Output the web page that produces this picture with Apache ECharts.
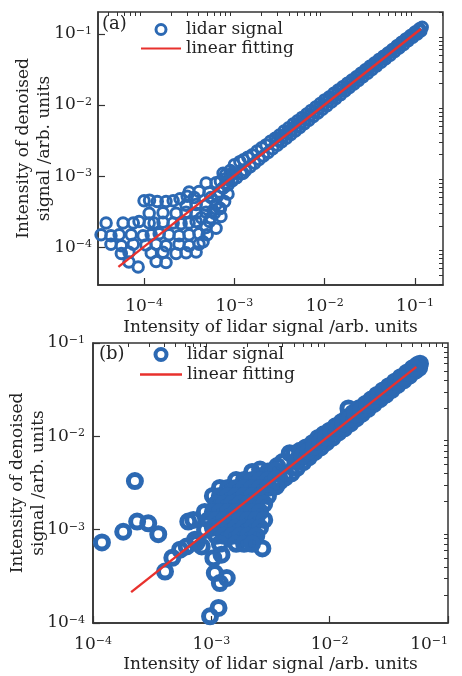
<!DOCTYPE html>
<html lang="en">
<head>
<meta charset="utf-8">
<title>lidar signal vs denoised signal</title>
<script src="https://cdn.jsdelivr.net/npm/echarts@6/dist/echarts.min.js"></script>
<style>
  html, body { margin: 0; background: #fff; }
</style>
</head>
<body>
<div id="main" style="width:462px;height:676px;"></div>
<script>
// ---- data (x = lidar signal, y = denoised signal) ----
var clusterA = [
  [3.8e-5,2.2e-4],[5.85e-5,2.2e-4],[7.6e-5,2.2e-4],[8.8e-5,2.3e-4],[1.14e-4,2.2e-4],[1.29e-4,2.2e-4],
  [1.62e-4,2.25e-4],[2.1e-4,2.2e-4],[2.57e-4,2.15e-4],[3.15e-4,2.2e-4],[3.77e-4,2.3e-4],
  [3.34e-5,1.5e-4],[4.3e-5,1.45e-4],[5.3e-5,1.5e-4],[7.2e-5,1.5e-4],[9.75e-5,1.45e-4],[1.2e-4,1.5e-4],
  [1.47e-4,1.55e-4],[1.89e-4,1.5e-4],[2.44e-4,1.45e-4],[3.15e-4,1.5e-4],[4.06e-4,1.55e-4],
  [4.3e-5,1.1e-4],[5.6e-5,1.05e-4],[7.6e-5,1.1e-4],[1.05e-4,1.08e-4],[1.36e-4,1.1e-4],[1.75e-4,1.05e-4],
  [2.44e-4,1.1e-4],[3.15e-4,1.05e-4],[4.06e-4,1.1e-4],[4.5e-4,1.2e-4],
  [5.6e-5,8.2e-5],[6.8e-5,8.5e-5],[1.2e-4,8.3e-5],[1.62e-4,8.5e-5],[2.26e-4,8.2e-5],[2.92e-4,8.4e-5],[3.77e-4,8.6e-5],
  [6.8e-5,6.2e-5],[1.36e-4,6.3e-5],[1.75e-4,6.1e-5],[8.6e-5,5.3e-5],
  [1.14e-4,3.0e-4],[1.62e-4,3.05e-4],[2.26e-4,3.0e-4],[2.92e-4,3.1e-4],[3.77e-4,3.0e-4],[4.86e-4,3.1e-4],
  [2.92e-4,3.9e-4],[3.77e-4,4.0e-4],[4.86e-4,3.9e-4],[6.27e-4,4.0e-4],
  [1.0e-4,4.5e-4],[1.15e-4,4.6e-4],[1.4e-4,4.4e-4],[1.75e-4,4.4e-4],[2.1e-4,4.5e-4],[2.5e-4,4.8e-4],
  [3.0e-4,5.2e-4],[3.6e-4,5.0e-4],
  [3.15e-4,6.0e-4],[4.06e-4,6.1e-4],[5.25e-4,5.9e-4],[6.76e-4,6.0e-4],
  [4.86e-4,8.0e-4],[6.27e-4,8.1e-4],[8.1e-4,8.0e-4],
  [7.5e-4,1.1e-3],[9.7e-4,1.12e-3],[1.25e-3,1.1e-3],
  [4.3e-4,2.6e-4],[5.5e-4,2.6e-4],[7.1e-4,2.7e-4],[4.86e-4,1.9e-4],[6.27e-4,1.85e-4],
  [5.3e-4,2.3e-4],[6.0e-4,3.0e-4],[6.8e-4,3.6e-4],[7.8e-4,4.4e-4],[8.5e-4,5.6e-4],[5.0e-4,1.5e-4],
  [5.5e-4,5.0e-4],[6.5e-4,5.2e-4],[7.5e-4,6.8e-4],[5.8e-4,3.3e-4],[7.0e-4,3.5e-4]
];
var bandA = [
  [8.0e-4,1.05e-3],[9.0e-4,1.2e-3],[1.0e-3,1.45e-3],[1.15e-3,1.6e-3],[1.26e-3,1.7e-3],[1.41e-3,1.85e-3],
  [1.58e-3,2.0e-3],[1.78e-3,2.25e-3],[2.0e-3,2.5e-3],[2.24e-3,2.75e-3],[2.51e-3,3.1e-3],[2.82e-3,3.4e-3],
  [3.16e-3,3.8e-3],[3.55e-3,4.3e-3],[3.98e-3,4.8e-3],[4.47e-3,5.4e-3],[5.01e-3,6.0e-3],[5.62e-3,6.7e-3],
  [6.31e-3,7.5e-3],[7.08e-3,8.4e-3],[7.94e-3,9.4e-3],[8.91e-3,1.05e-2],[1.0e-2,1.18e-2],[1.12e-2,1.3e-2],
  [1.26e-2,1.46e-2],[1.41e-2,1.63e-2],[1.58e-2,1.8e-2],[1.78e-2,2.02e-2],[2.0e-2,2.25e-2],[2.24e-2,2.5e-2],
  [2.51e-2,2.8e-2],[2.82e-2,3.12e-2],[3.16e-2,3.5e-2],[3.55e-2,3.9e-2],[3.98e-2,4.35e-2],[4.47e-2,4.85e-2],
  [5.01e-2,5.4e-2],[5.62e-2,6.05e-2],[6.31e-2,6.8e-2],[7.08e-2,7.6e-2],[7.94e-2,8.5e-2],[8.91e-2,9.5e-2],
  [0.1,0.106],[0.112,0.118],[0.12,0.124],
  [7.0e-4,8.5e-4],[8.0e-4,9.2e-4],[9.0e-4,1.0e-3],
  [7.5e-4,6.8e-4],[8.5e-4,7.5e-4],[9.5e-4,8.6e-4],[1.06e-3,9.5e-4],[1.19e-3,1.08e-3],[1.33e-3,1.2e-3],
  [1.5e-3,1.36e-3],[1.68e-3,1.52e-3],[1.88e-3,1.72e-3],[2.1e-3,1.92e-3],[2.37e-3,2.15e-3],[2.66e-3,2.42e-3],
  [2.99e-3,2.72e-3],[3.35e-3,3.05e-3],[3.76e-3,3.42e-3],[4.22e-3,3.85e-3],[4.73e-3,4.3e-3],[5.31e-3,4.85e-3],
  [5.96e-3,5.45e-3],[6.68e-3,6.1e-3],[7.5e-3,6.9e-3],[8.41e-3,7.75e-3],[9.44e-3,8.7e-3],[1.06e-2,9.8e-3],
  [1.19e-2,1.1e-2],[1.33e-2,1.24e-2],[1.5e-2,1.4e-2],[1.68e-2,1.57e-2],[1.88e-2,1.76e-2],[2.11e-2,1.98e-2],
  [2.37e-2,2.22e-2],[2.66e-2,2.5e-2],[2.99e-2,2.8e-2],[3.35e-2,3.15e-2],[3.76e-2,3.55e-2],[4.22e-2,3.98e-2],
  [4.73e-2,4.47e-2],[5.31e-2,5.02e-2],[5.96e-2,5.64e-2],[6.68e-2,6.33e-2],[7.5e-2,7.1e-2],[8.41e-2,7.98e-2],
  [9.44e-2,8.95e-2],[0.106,0.1],[0.116,0.11],
  [3.0e-3,3.2e-3],[3.4e-3,3.6e-3],[3.8e-3,4.0e-3],[4.3e-3,4.5e-3],[4.8e-3,5.0e-3],[5.4e-3,5.7e-3],
  [6.0e-3,6.3e-3],[6.8e-3,7.1e-3],[7.6e-3,8.0e-3],[8.6e-3,9.0e-3],[9.6e-3,1.0e-2],[1.08e-2,1.13e-2],
  [1.21e-2,1.27e-2],[1.36e-2,1.42e-2],[1.53e-2,1.6e-2],[1.72e-2,1.79e-2],[1.93e-2,2.01e-2],[2.16e-2,2.25e-2],
  [2.43e-2,2.53e-2],[2.72e-2,2.83e-2],[3.06e-2,3.18e-2],[3.43e-2,3.57e-2],[3.85e-2,4.0e-2],[4.32e-2,4.49e-2],
  [4.85e-2,5.04e-2],[5.44e-2,5.65e-2],[6.1e-2,6.34e-2],[6.85e-2,7.1e-2],[7.69e-2,7.98e-2],[8.63e-2,8.95e-2],
  [9.68e-2,0.1],[0.109,0.112]
];
var fitA = [[5.2e-5, 5.3e-5], [0.116, 0.117]];

var clusterB = [
  [1.19e-4,7.3e-4],[1.8e-4,9.5e-4],[2.26e-4,3.32e-3],[2.36e-4,1.22e-3],[2.93e-4,1.17e-3],[3.56e-4,8.95e-4],
  [4.06e-4,3.56e-4],[4.68e-4,5.0e-4],[5.44e-4,6.1e-4],[6.19e-4,6.6e-4],[6.38e-4,1.22e-3],[7.04e-4,1.27e-3],
  [7.28e-4,7.8e-4],[7.5e-4,7.2e-4],[8.3e-4,6.6e-4],[8.85e-4,9.9e-4],[9.75e-4,1.18e-4],[1.15e-3,1.45e-4],
  [1.07e-3,3.43e-4],[1.18e-3,2.68e-4],[1.35e-3,3.03e-4],[1.04e-3,4.95e-4],[1.22e-3,5.4e-4],
  [2.7e-3,6.3e-4],[2.24e-3,7.9e-4],
  [2.21e-3,4.15e-3],[2.58e-3,4.4e-3],[3.01e-3,4.2e-3],[3.52e-3,4.3e-3],
  [1.62e-3,3.4e-3],[1.89e-3,3.4e-3],[2.21e-3,3.4e-3],[2.58e-3,3.4e-3],[3.01e-3,3.4e-3],[3.52e-3,3.5e-3],
  [1.18e-3,2.8e-3],[1.38e-3,2.8e-3],[1.62e-3,2.8e-3],[1.89e-3,2.8e-3],[2.21e-3,2.8e-3],[2.58e-3,2.8e-3],
  [3.01e-3,2.8e-3],[3.52e-3,2.9e-3],
  [1.03e-3,2.3e-3],[1.18e-3,2.3e-3],[1.38e-3,2.3e-3],[1.62e-3,2.3e-3],[1.89e-3,2.3e-3],[2.21e-3,2.3e-3],
  [2.58e-3,2.3e-3],[3.01e-3,2.3e-3],
  [1.1e-3,1.89e-3],[1.28e-3,1.89e-3],[1.5e-3,1.89e-3],[1.75e-3,1.89e-3],[2.05e-3,1.89e-3],[2.4e-3,1.89e-3],
  [2.8e-3,1.89e-3],
  [8.8e-4,1.55e-3],[1.03e-3,1.55e-3],[1.18e-3,1.55e-3],[1.38e-3,1.55e-3],[1.62e-3,1.55e-3],[1.89e-3,1.55e-3],
  [2.21e-3,1.55e-3],[2.58e-3,1.55e-3],
  [9.5e-4,1.27e-3],[1.1e-3,1.27e-3],[1.28e-3,1.27e-3],[1.5e-3,1.27e-3],[1.75e-3,1.27e-3],[2.05e-3,1.27e-3],
  [2.4e-3,1.27e-3],[2.8e-3,1.27e-3],
  [1.03e-3,1.05e-3],[1.18e-3,1.05e-3],[1.38e-3,1.05e-3],[1.62e-3,1.05e-3],[1.89e-3,1.05e-3],[2.21e-3,1.05e-3],
  [2.58e-3,1.05e-3],
  [1.1e-3,8.6e-4],[1.28e-3,8.6e-4],[1.5e-3,8.6e-4],[1.75e-3,8.6e-4],[2.05e-3,8.6e-4],[2.4e-3,8.6e-4],
  [1.18e-3,7.05e-4],[1.62e-3,7.05e-4],[1.89e-3,7.05e-4],[2.21e-3,7.05e-4]
];
var bandB = [
  [3.2e-3,4.2e-3],[3.6e-3,4.8e-3],[4.0e-3,5.3e-3],[4.6e-3,6.6e-3],[5.0e-3,6.5e-3],[5.6e-3,7.0e-3],
  [6.3e-3,7.6e-3],[7.2e-3,8.5e-3],[8.0e-3,9.6e-3],[8.9e-3,1.05e-2],[1.0e-2,1.15e-2],[1.12e-2,1.28e-2],
  [1.26e-2,1.42e-2],[1.41e-2,1.6e-2],[1.44e-2,1.99e-2],[1.58e-2,1.78e-2],[1.78e-2,2.0e-2],[2.0e-2,2.22e-2],
  [2.24e-2,2.48e-2],[2.51e-2,2.78e-2],[2.82e-2,3.1e-2],[3.16e-2,3.45e-2],[3.55e-2,3.85e-2],[3.98e-2,4.3e-2],
  [4.47e-2,4.8e-2],[5.01e-2,5.35e-2],[5.5e-2,5.8e-2],[5.8e-2,6.0e-2],
  [3.4e-3,3.0e-3],[3.8e-3,3.3e-3],[4.2e-3,3.6e-3],[4.75e-3,4.0e-3],[5.3e-3,4.6e-3],[6.0e-3,5.3e-3],
  [6.7e-3,6.0e-3],[7.5e-3,6.8e-3],[8.4e-3,7.6e-3],[9.4e-3,8.6e-3],[1.06e-2,9.7e-3],[1.19e-2,1.1e-2],
  [1.33e-2,1.22e-2],[1.5e-2,1.38e-2],[1.68e-2,1.56e-2],[1.88e-2,1.75e-2],[2.11e-2,1.97e-2],[2.37e-2,2.22e-2],
  [2.66e-2,2.5e-2],[2.99e-2,2.8e-2],[3.35e-2,3.15e-2],[3.76e-2,3.55e-2],[4.22e-2,3.98e-2],[4.73e-2,4.48e-2],
  [5.31e-2,5.05e-2],[5.7e-2,5.4e-2],
  [5.3e-3,5.6e-3],[5.9e-3,6.2e-3],[6.6e-3,7.0e-3],[7.4e-3,7.8e-3],[8.3e-3,8.8e-3],[9.3e-3,9.8e-3],
  [1.04e-2,1.1e-2],[1.17e-2,1.23e-2],[1.31e-2,1.38e-2],[1.47e-2,1.54e-2],[1.65e-2,1.72e-2],[1.85e-2,1.93e-2],
  [2.07e-2,2.16e-2],[2.32e-2,2.42e-2],[2.6e-2,2.71e-2],[2.92e-2,3.04e-2],[3.27e-2,3.41e-2],[3.67e-2,3.82e-2],
  [4.12e-2,4.29e-2],[4.62e-2,4.8e-2],[5.18e-2,5.4e-2]
];
var fitB = [[2.1e-4, 2.14e-4], [0.054, 0.0555]];

// axis ranges and ticks
var rangeAx = [3.09e-5, 0.204], rangeAy = [2.95e-5, 0.203];
var rangeBx = [1e-4, 0.1], rangeBy = [1e-4, 0.1];
var majorTicks = [1e-5, 1e-4, 1e-3, 1e-2, 1e-1];
var mantissas = [2, 3, 4, 5, 6, 7, 8, 9];
var minorTicks = [];
majorTicks.forEach(function (d) {
  mantissas.forEach(function (m) { minorTicks.push(m * d); });
});

var FONT = 'DejaVu Serif';
var BLUE = '#2c69b3';
var RED = '#e8312d';
var INK = '#222';
var LINE_ICON = 'path://M0,0H40V2.2H0Z';

function powLabel(v) {
  var e = Math.round(Math.log10(v));
  return '{b|10}{s|' + (e < 0 ? '\u2212' + (-e) : e) + '}';
}

function axisPair(dim, grid, range, name, nameGap, labelMargin, alignMax) {
  var main = {
    type: 'log', logBase: 10, gridIndex: grid, min: range[0], max: range[1],
    name: name, nameLocation: 'middle', nameGap: nameGap, nameMoveOverlap: false,
    nameTextStyle: { fontFamily: FONT, fontSize: 17, color: INK, lineHeight: 21 },
    axisLine: { show: true, lineStyle: { color: '#333', width: 1.5 } },
    axisTick: { show: true, inside: true, length: 7, customValues: majorTicks, lineStyle: { color: '#333', width: 1.2 } },
    axisLabel: {
      show: true, margin: labelMargin, customValues: majorTicks, formatter: powLabel,
      rich: {
        b: { fontFamily: FONT, fontSize: 17, color: INK },
        s: { fontFamily: FONT, fontSize: 11, color: INK, verticalAlign: 'top' }
      }
    },
    splitLine: { show: false }
  };
  if (alignMax) main.axisLabel.alignMaxLabel = alignMax;
  if (dim === 'y') main.nameRotate = 90;
  var minor = {
    type: 'log', logBase: 10, gridIndex: grid, min: range[0], max: range[1],
    axisLine: { show: false },
    axisTick: { show: true, inside: true, length: 4, customValues: minorTicks, lineStyle: { color: '#333', width: 1 } },
    axisLabel: { show: false },
    splitLine: { show: false }
  };
  return [main, minor];
}

var myChart = echarts.init(document.getElementById('main'), null, { renderer: 'canvas' });

var option = {
  animation: false,
  backgroundColor: '#fff',
  grid: [
    { left: 98, top: 12, width: 345, height: 273, outerBoundsMode: 'none', show: true, borderColor: '#333', borderWidth: 1.5 },
    { left: 93, top: 343, width: 355, height: 280, outerBoundsMode: 'none', show: true, borderColor: '#333', borderWidth: 1.5 }
  ],
  xAxis: [].concat(
    axisPair('x', 0, rangeAx, 'Intensity of lidar signal /arb. units', 32, 13),
    axisPair('x', 1, rangeBx, 'Intensity of lidar signal /arb. units', 31, 13, 'right')
  ),
  yAxis: [].concat(
    axisPair('y', 0, rangeAy, 'Intensity of denoised\nsignal /arb. units', 43, 6),
    axisPair('y', 1, rangeBy, 'Intensity of denoised\nsignal /arb. units', 44, 8)
  ),
  legend: [
    {
      data: [
        { name: 'lidarA', itemStyle: { borderWidth: 3 } },
        { name: 'fitA', icon: LINE_ICON }
      ],
      orient: 'vertical', left: 136, top: 16,
      itemWidth: 40, itemHeight: 10, itemGap: 2,
      formatter: function (n) { return n === 'lidarA' ? 'lidar signal' : 'linear fitting'; },
      textStyle: { fontFamily: FONT, fontSize: 17, color: INK }
    },
    {
      data: [
        { name: 'lidarB', itemStyle: { borderWidth: 4 } },
        { name: 'fitB', icon: LINE_ICON }
      ],
      orient: 'vertical', left: 135, top: 341,
      itemWidth: 42, itemHeight: 11, itemGap: 3,
      formatter: function (n) { return n === 'lidarB' ? 'lidar signal' : 'linear fitting'; },
      textStyle: { fontFamily: FONT, fontSize: 17, color: INK }
    }
  ],
  graphic: [
    { type: 'text', left: 102, top: 15, style: { text: '(a)', font: '18px "DejaVu Serif"', fill: INK } },
    { type: 'text', left: 99, top: 345, style: { text: '(b)', font: '18px "DejaVu Serif"', fill: INK } }
  ],
  series: [
    {
      name: 'lidarA', type: 'scatter', xAxisIndex: 0, yAxisIndex: 0,
      data: bandA.concat(clusterA), symbol: 'circle', symbolSize: 10.5,
      itemStyle: { color: 'rgba(255,255,255,0)', borderColor: BLUE, borderWidth: 3, opacity: 1 }
    },
    {
      name: 'fitA', type: 'line', xAxisIndex: 0, yAxisIndex: 0, data: fitA,
      showSymbol: false, symbol: 'none', lineStyle: { color: RED, width: 2.4 }, itemStyle: { color: RED }, z: 5
    },
    {
      name: 'lidarB', type: 'scatter', xAxisIndex: 2, yAxisIndex: 2,
      data: bandB.concat(clusterB), symbol: 'circle', symbolSize: 13,
      itemStyle: { color: 'rgba(255,255,255,0)', borderColor: BLUE, borderWidth: 5, opacity: 1 }
    },
    {
      name: 'fitB', type: 'line', xAxisIndex: 2, yAxisIndex: 2, data: fitB,
      showSymbol: false, symbol: 'none', lineStyle: { color: RED, width: 2.4 }, itemStyle: { color: RED }, z: 5
    }
  ]
};

myChart.setOption(option);
</script>
</body>
</html>
